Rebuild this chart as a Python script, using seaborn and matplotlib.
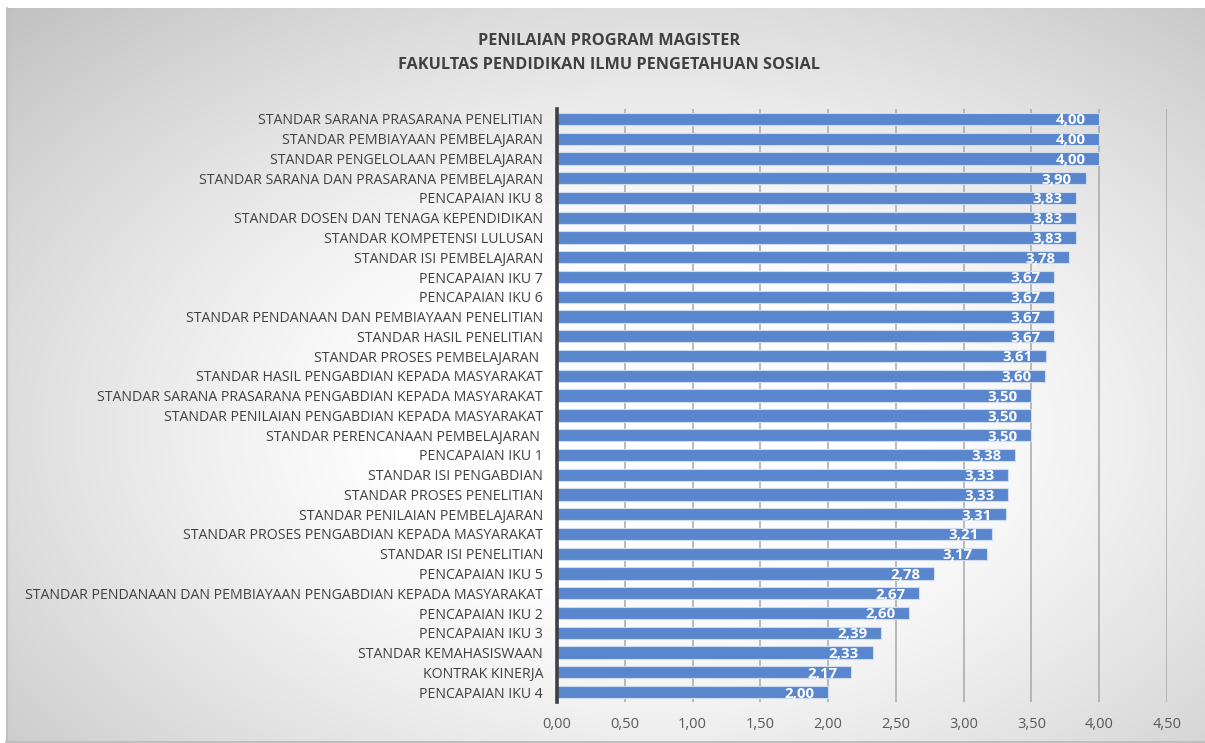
import numpy as np
import pandas as pd
import matplotlib
matplotlib.use("Agg")
import matplotlib.pyplot as plt
import seaborn as sns

categories = [
    "STANDAR SARANA PRASARANA PENELITIAN",
    "STANDAR PEMBIAYAAN PEMBELAJARAN",
    "STANDAR PENGELOLAAN PEMBELAJARAN",
    "STANDAR SARANA DAN PRASARANA PEMBELAJARAN",
    "PENCAPAIAN IKU 8",
    "STANDAR DOSEN DAN TENAGA KEPENDIDIKAN",
    "STANDAR KOMPETENSI LULUSAN",
    "STANDAR ISI PEMBELAJARAN",
    "PENCAPAIAN IKU 7",
    "PENCAPAIAN IKU 6",
    "STANDAR PENDANAAN DAN PEMBIAYAAN PENELITIAN",
    "STANDAR HASIL PENELITIAN",
    "STANDAR PROSES PEMBELAJARAN ",
    "STANDAR HASIL PENGABDIAN KEPADA MASYARAKAT",
    "STANDAR SARANA PRASARANA PENGABDIAN KEPADA MASYARAKAT",
    "STANDAR PENILAIAN PENGABDIAN KEPADA MASYARAKAT",
    "STANDAR PERENCANAAN PEMBELAJARAN ",
    "PENCAPAIAN IKU 1",
    "STANDAR ISI PENGABDIAN",
    "STANDAR PROSES PENELITIAN",
    "STANDAR PENILAIAN PEMBELAJARAN",
    "STANDAR PROSES PENGABDIAN KEPADA MASYARAKAT",
    "STANDAR ISI PENELITIAN",
    "PENCAPAIAN IKU 5",
    "STANDAR PENDANAAN DAN PEMBIAYAAN PENGABDIAN KEPADA MASYARAKAT",
    "PENCAPAIAN IKU 2",
    "PENCAPAIAN IKU 3",
    "STANDAR KEMAHASISWAAN",
    "KONTRAK KINERJA",
    "PENCAPAIAN IKU 4",
]
values = [4.00, 4.00, 4.00, 3.90, 3.83, 3.83, 3.83, 3.78, 3.67, 3.67,
          3.67, 3.67, 3.61, 3.60, 3.50, 3.50, 3.50, 3.38, 3.33, 3.33,
          3.31, 3.21, 3.17, 2.78, 2.67, 2.60, 2.39, 2.33, 2.17, 2.00]
x_ticks = [0.0, 0.5, 1.0, 1.5, 2.0, 2.5, 3.0, 3.5, 4.0, 4.5]
title_lines = ["PENILAIAN PROGRAM MAGISTER", "FAKULTAS PENDIDIKAN ILMU PENGETAHUAN SOSIAL"]

df = pd.DataFrame({"kategori": categories, "nilai": values})

sns.set_theme(style="white")
plt.rcParams["font.family"] = ["Open Sans", "DejaVu Sans"]

W, H = 1205, 743
fig = plt.figure(figsize=(W / 100, H / 100), dpi=100)
fig.patch.set_facecolor("white")

# gradient background panel
bx0, by0 = 6, 8
bg = fig.add_axes([bx0 / W, 0, 1 - bx0 / W, 1 - by0 / H], zorder=-5)
xs = np.linspace(bx0, W, 400)
ys = np.linspace(by0, H, 250)
X, Y = np.meshgrid(xs, ys)
cx, cy = 660, 430
d = np.sqrt(((X - cx) / 700) ** 2 + ((Y - cy) / 450) ** 2)
v = 1 - 0.25 * np.clip(d - 0.35, 0, None) ** 1.2
v = np.clip(v, 0.72, 1)
img = np.dstack([v, v, v])
bg.imshow(img, aspect="auto", extent=[0, 1, 1, 0])
bg.set_xlim(0, 1)
bg.set_ylim(1, 0)
bg.axis("off")
bg.plot([0, 1], [0.001, 0.001], color="#bfbfbf", lw=1.5, transform=bg.transAxes, clip_on=False)
bg.plot([0.0005, 0.0005], [0, 1], color="#bfbfbf", lw=1.5, transform=bg.transAxes, clip_on=False)

left, right = 557, 1167
top, bottom = 109, 702
ax = fig.add_axes([left / W, 1 - bottom / H, (right - left) / W, (bottom - top) / H])
ax.patch.set_alpha(0)

sns.barplot(data=df, x="nilai", y="kategori", orient="h", color="#5A86CE",
            width=0.62, edgecolor="#d0dcf0", linewidth=0.8, saturation=1, ax=ax)

ax.set_xlim(0, 4.5)
ax.set_xticks(x_ticks)
ax.set_xticklabels([f"{t:.2f}".replace(".", ",") for t in x_ticks], color="#595959", fontsize=10.5)
ax.tick_params(axis="x", length=0, pad=11)
ax.tick_params(axis="y", length=0, pad=10, labelsize=10.2, labelcolor="#404040")
ax.set_xlabel("")
ax.set_ylabel("")
ax.set_axisbelow(True)
ax.xaxis.grid(True, color="#a8a8a8", linewidth=1.1)
ax.yaxis.grid(False)
for s in ["top", "right", "bottom"]:
    ax.spines[s].set_visible(False)
ax.spines["left"].set_color("#404040")
ax.spines["left"].set_linewidth(2.6)

for i, val in enumerate(values):
    ax.annotate(f"{val:.2f}".replace(".", ","), xy=(val, i), xytext=(-10, -1),
                textcoords="offset points", ha="right", va="center",
                color="white", fontsize=10.8, fontweight="bold")

fig.text(609 / W, 1 - 41 / H, title_lines[0], ha="center", va="center",
         fontsize=11.7, fontweight="bold", color="#404040")
fig.text(609 / W, 1 - 65 / H, title_lines[1], ha="center", va="center",
         fontsize=11.7, fontweight="bold", color="#404040")

fig.savefig("out.png", dpi=100, facecolor=fig.get_facecolor())
